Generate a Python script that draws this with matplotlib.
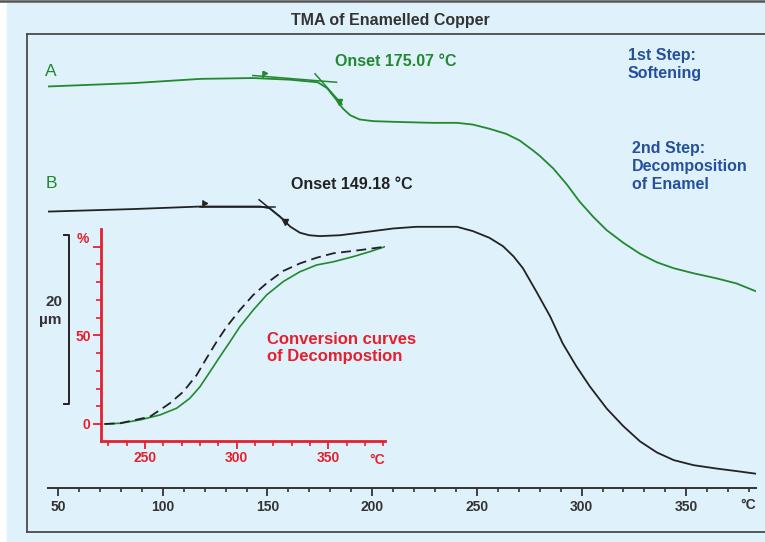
"""TMA of enamelled copper wire: two expansion curves plus conversion inset."""
import numpy as np
import matplotlib
matplotlib.use("Agg")
import matplotlib.pyplot as plt
from matplotlib.lines import Line2D
from matplotlib.patches import Rectangle
from matplotlib.ticker import FixedLocator

plt.rcParams.update({"font.family": ["Liberation Sans", "DejaVu Sans"],
                     "font.weight": "bold"})

W, H = 765, 542
BG = "#dff1fb"
GREEN = "#22892e"
BLACK = "#222222"
RED = "#e5202e"
BLUE = "#24509d"
DARK = "#333333"

# ---- main curves: temperature (C) vs length change (um) ----
tA = [45, 86, 118, 143, 161, 174, 178.5, 183, 186, 189.5, 194, 200.5, 213,
      229, 240.5, 248, 256, 264, 270.5, 277, 280, 286.5, 293, 299, 305.5, 312,
      320, 328, 336, 344, 353.5, 364.5, 374, 383]
dA = [47.5, 47.9, 48.4, 48.5, 48.3, 48.0, 47.3, 45.9, 44.9, 44.1, 43.6, 43.4, 43.3,
      43.2, 43.2, 43.0, 42.5, 41.9, 41.1, 39.9, 39.3, 37.8, 35.9, 33.9, 32.1, 30.5,
      29.0, 27.7, 26.7, 26.0, 25.4, 24.8, 24.2, 23.3]

tB = [45, 86, 118, 146.5, 151, 156, 161, 165.5, 170, 175, 184.5, 197.5, 210, 221,
      232, 240.5, 248, 256, 262.5, 267.5, 272, 278.5, 285, 291, 297.5, 304, 312,
      320, 328, 336, 344, 353.5, 364.5, 374, 383]
dB = [32.7, 33.0, 33.3, 33.3, 33.1, 32.1, 30.9, 30.2, 29.9, 29.8, 29.9, 30.3, 30.7, 30.9,
      30.9, 30.9, 30.4, 29.6, 28.6, 27.4, 26.0, 23.2, 20.3, 17.1, 14.4, 12.0, 9.4,
      7.3, 5.5, 4.2, 3.3, 2.7, 2.3, 2.0, 1.7]

# onset construction lines (baseline tangent, inflection tangent, flag, arrow)
onsetA_base_t, onsetA_base_d = [143, 183], [48.8, 48.0]
onsetA_tan_t, onsetA_tan_d = [172.7, 185.6], [49.0, 45.4]
onsetA_flag = (147.9, 48.5, 49.2)
onsetA_arrow = (184.2, 45.7)
onsetB_base_t, onsetB_base_d = [118, 153.6], [33.25, 33.25]
onsetB_tan_t, onsetB_tan_d = [146.0, 159.4], [34.1, 31.4]
onsetB_flag = (119.2, 33.3, 33.9)
onsetB_arrow = (158.4, 31.5)

# ---- inset: conversion (%) vs temperature ----
tconvA = [228, 236.4, 247.3, 258.2, 267.3, 274.5, 280, 285.5, 290.9, 296.4, 301.8,
          309.1, 316.4, 325.4, 334.6, 343.7, 352.8, 363.6, 372.7, 380.9]
pconvA = [0, 0.4, 2.3, 5.1, 8.9, 14.5, 21.0, 29.5, 38.0, 46.4, 54.9,
          64.3, 72.8, 80.3, 85.9, 89.7, 91.5, 94.4, 97.2, 100]
tconvB = [228, 236.4, 252.7, 263.6, 270.9, 278.2, 283.6, 289.1, 294.6, 301.8,
          309.1, 316.4, 325.4, 334.6, 343.7, 352.8, 367.3, 380.9]
pconvB = [0, 0.4, 4.1, 11.7, 18.2, 27.6, 37.1, 46.4, 54.9, 64.3,
          72.8, 79.4, 86.3, 90.6, 93.8, 96.3, 98.1, 100]

main_ticks = [50, 100, 150, 200, 250, 300, 350]
inset_ticks = [250, 300, 350]


def fx(x):
    return x / W


def fy(y):
    return 1 - y / H


fig = plt.figure(figsize=(W / 100, H / 100), dpi=100, facecolor="white")
fig.patches.append(Rectangle((fx(7), 0), 1 - fx(7), fy(2), transform=fig.transFigure,
                             color=BG, zorder=-10))
frame = dict(color="#4a4a4a", lw=1.3, transform=fig.transFigure)
fig.lines += [Line2D([0, 1], [fy(0.8), fy(0.8)], color="#555555", lw=1.8,
                     transform=fig.transFigure),
              Line2D([fx(27), 1], [fy(34), fy(34)], **frame),
              Line2D([fx(27), fx(27)], [fy(34), fy(532)], **frame),
              Line2D([fx(27), 1], [fy(532), fy(532)], **frame)]

fig.text(fx(390), fy(20), "TMA of Enamelled Copper", ha="center", va="center",
         fontsize=11.5, color=DARK)

# ---- main axes ----
ax = fig.add_axes([fx(48), fy(488), fx(756) - fx(48), fy(40) - fy(488)])
ax.set_facecolor("none")
ax.set_xlim(45.2, 383.3)
ax.set_ylim(0, 53)
for s in ["top", "right", "left"]:
    ax.spines[s].set_visible(False)
ax.spines["bottom"].set_color(DARK)
ax.spines["bottom"].set_linewidth(1.4)
ax.set_yticks([])
ax.xaxis.set_major_locator(FixedLocator(main_ticks))
ax.xaxis.set_minor_locator(FixedLocator([t for t in range(60, 390, 10) if t % 50]))
ax.tick_params(axis="x", which="major", direction="out", length=5.5, width=1.3,
               color=DARK, labelsize=10, labelcolor=DARK, pad=3)
ax.tick_params(axis="x", which="minor", direction="out", length=3, width=1.2, color=DARK)
fig.text(fx(748), fy(505), "°C", ha="center", va="center", fontsize=10, color=DARK)

ax.plot(tA, dA, color=GREEN, lw=1.3, solid_joinstyle="round")
ax.plot(tB, dB, color=BLACK, lw=1.3, solid_joinstyle="round")
for bt, bd, st, sd, flag, arr, col in [
        (onsetA_base_t, onsetA_base_d, onsetA_tan_t, onsetA_tan_d, onsetA_flag, onsetA_arrow, GREEN),
        (onsetB_base_t, onsetB_base_d, onsetB_tan_t, onsetB_tan_d, onsetB_flag, onsetB_arrow, BLACK)]:
    ax.plot(bt, bd, color=col, lw=1.1)
    ax.plot(st, sd, color=col, lw=1.1)
    ax.plot([flag[0], flag[0]], [flag[1], flag[2]], color=col, lw=1.1)
    ax.plot(flag[0] + 0.9, flag[2] - 0.15, marker=">", ms=3, color=col)
    ax.plot(*arr, marker="v", ms=4, color=col)

# 20 um scale bar
ax.plot([52.9, 55.3, 55.3, 52.9], [29.94, 29.94, 9.94, 9.94], color=BLACK, lw=1.4,
        clip_on=False)
fig.text(fx(54), fy(302), "20", ha="center", va="center", fontsize=11, color=DARK)
fig.text(fx(50), fy(320), "µm", ha="center", va="center", fontsize=11, color=DARK)

fig.text(fx(51), fy(71), "A", ha="center", va="center", fontsize=12.5,
         fontweight="normal", color=GREEN)
fig.text(fx(51), fy(183), "B", ha="center", va="center", fontsize=12.5,
         fontweight="normal", color=GREEN)
fig.text(fx(335), fy(62), "Onset 175.07 °C", ha="left", va="center", fontsize=11.5,
         color=GREEN)
fig.text(fx(291), fy(184), "Onset 149.18 °C", ha="left", va="center", fontsize=11.5,
         color=BLACK)
fig.text(fx(628), fy(48), "1st Step:\nSoftening", ha="left", va="top", fontsize=11.5,
         color=BLUE, linespacing=1.25)
fig.text(fx(632), fy(141), "2nd Step:\nDecomposition\nof Enamel", ha="left", va="top",
         fontsize=11.5, color=BLUE, linespacing=1.25)

# ---- inset axes ----
ins = fig.add_axes([fx(101), fy(441), fx(385) - fx(101), fy(229) - fy(441)])
ins.set_facecolor("none")
ins.set_xlim(226, 381)
ins.set_ylim(-9.6, 110)
for s in ["top", "right"]:
    ins.spines[s].set_visible(False)
for s in ["left", "bottom"]:
    ins.spines[s].set_color(RED)
    ins.spines[s].set_linewidth(2)
ins.xaxis.set_major_locator(FixedLocator(inset_ticks))
ins.xaxis.set_minor_locator(FixedLocator([t for t in range(230, 390, 10) if t % 50]))
ins.yaxis.set_major_locator(FixedLocator([0, 50, 100]))
ins.yaxis.set_minor_locator(FixedLocator([10, 20, 30, 40, 60, 70, 80, 90]))
ins.set_yticklabels(["0", "50", ""])
ins.tick_params(which="major", direction="out", length=5.5, width=1.3, color=RED,
                labelsize=10, labelcolor=RED, pad=2)
ins.tick_params(which="minor", direction="out", length=3.5, width=1.2, color=RED)
ins.plot(tconvA, pconvA, color=GREEN, lw=1.2, solid_joinstyle="round")
ins.plot(tconvB, pconvB, color=BLACK, lw=1.3, dashes=(5.5, 3))
fig.text(fx(377), fy(460), "°C", ha="center", va="center", fontsize=10, color=RED)
fig.text(fx(83), fy(239), "%", ha="center", va="center", fontsize=10, color=RED)
fig.text(fx(267), fy(332), "Conversion curves\nof Decompostion", ha="left", va="top",
         fontsize=12, color=RED, linespacing=1.2)

fig.savefig("out.png", dpi=100, facecolor=fig.get_facecolor())
